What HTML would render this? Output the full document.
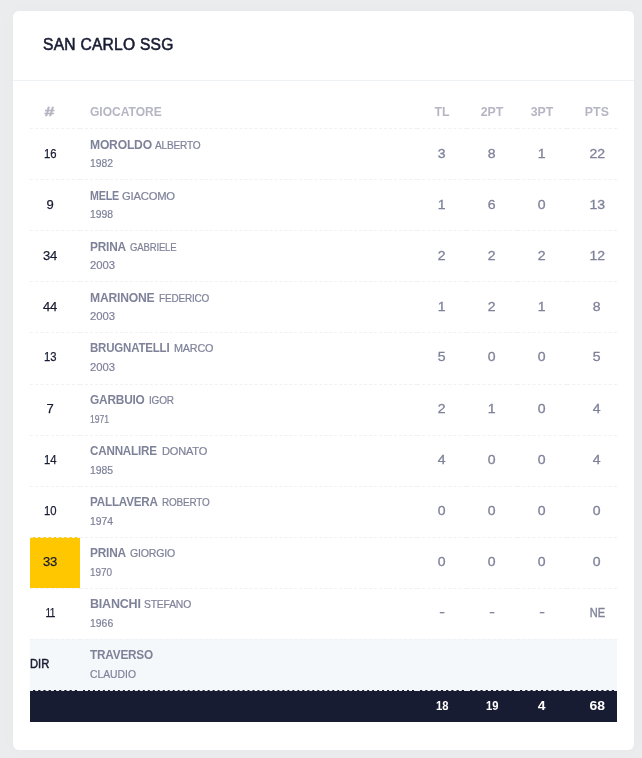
<!DOCTYPE html>
<html lang="it">
<head>
<meta charset="utf-8">
<title>SAN CARLO SSG</title>
<style>
*{box-sizing:border-box;margin:0;padding:0}
html,body{width:642px;height:758px;overflow:hidden}
body{background:#ebecee;font-family:"Liberation Sans",sans-serif;font-size:13px;color:#181c32;position:relative}
.card{position:absolute;left:13px;top:11px;width:621px;height:739.2px;background:#fff;border-radius:6px;box-shadow:0 0 20px 0 rgba(76,87,125,.02)}
.card-h{height:70px;border-bottom:1px solid #eff2f5;padding:0 30px;display:flex;align-items:center}
.card-h h3{font-size:15.6px;font-weight:400;color:#181c32;-webkit-text-stroke:.55px #181c32;white-space:nowrap;letter-spacing:.25px;word-spacing:0px;position:relative;top:-1px}
table{position:absolute;left:17px;top:83px;width:587px;border-collapse:collapse;table-layout:fixed}
th,td{padding:0 9.75px;vertical-align:middle}
th:first-child,td:first-child{padding-left:0}
th:last-child,td:last-child{padding-right:0}
thead th{height:34px;padding-top:3px;font-size:12.35px;font-weight:700;color:#b5b5c3;text-align:center;border-bottom:1px dashed #eff2f5}
thead th.l{text-align:left}
.gio{display:inline-block;transform-origin:0 50%;transform:scaleX(.975)}
.hash{display:inline-block;transform:translateX(-1px) scaleX(1.45);-webkit-text-stroke:.4px #b5b5c3}
tbody td{height:51px;border-bottom:1px dashed #eff2f5;text-align:center;color:#7e8299;font-weight:400;-webkit-text-stroke:.3px #7e8299}
td.n{color:#181c32;-webkit-text-stroke:.25px #181c32}
td.p{text-align:left;-webkit-text-stroke:0}
.l1{white-space:nowrap;line-height:15px;height:15px}
.nm,.fn,.yr{display:inline-block;transform-origin:0 50%}
.nm{font-weight:700;color:#7e8299;font-size:12.5px;letter-spacing:-.2px}
.fn{font-size:10.8px;color:#7e8299;font-weight:400;letter-spacing:-.2px;-webkit-text-stroke:.2px #7e8299}
.yr{-webkit-text-stroke:.2px #7e8299;display:block;width:100px;font-size:10.8px;color:#7e8299;line-height:13px;margin-top:5px;white-space:nowrap}
td.y{background:#ffc700}
tr.dir td{background:#f5f8fa;border-bottom:0}
tr.dir td.n{text-align:left}
tr.tot td{background:#181c32;color:#fff;font-weight:700;font-size:13px;padding-bottom:2px;height:32px;border-top:1px dashed #eff2f5;border-bottom:0;-webkit-text-stroke:0}
tbody tr:nth-child(5) td{height:52px;padding-bottom:3px}
tbody tr:nth-child(n+6) td{padding-bottom:2px}
.d{display:inline-block;transform:translateY(-1.5px) scaleX(1.3)}
.ne{display:inline-block;transform:translateX(.5px) scaleX(.85);-webkit-text-stroke:.4px #7e8299}
.t1{display:inline-block;transform:scaleX(.86)}
tbody tr:nth-child(n+5) .yr{position:relative;top:1px}
.e11{display:inline-block;transform:scaleX(.78);letter-spacing:-.5px;margin-right:.5px}
.dirx{display:inline-block;transform-origin:0 50%;transform:scaleX(.86);-webkit-text-stroke:.5px #181c32}
.s{display:inline-block;transform:scaleX(1.08)}
.n1{display:inline-block;transform:scaleX(.87)}
.t2{display:inline-block;transform:scaleX(1.07)}
</style>
</head>
<body>
<div class="card">
<div class="card-h"><h3>SAN CARLO SSG</h3></div>
<table>
<colgroup><col style="width:50px"><col><col style="width:50px"><col style="width:50px"><col style="width:50px"><col style="width:50px"></colgroup>
<thead><tr><th><span class="hash">#</span></th><th class="l"><span class="gio">GIOCATORE</span></th><th>TL</th><th>2PT</th><th>3PT</th><th>PTS</th></tr></thead>
<tbody>
<tr><td class="n"><span class="n1">16</span></td><td class="p"><div class="l1"><span class="nm" style="transform:scaleX(0.969)">MOROLDO</span> <span class="fn" style="transform:scaleX(0.937);margin-left:-2.00px">ALBERTO</span></div><div class="yr" style="transform:scaleX(0.962)">1982</div></td><td><span class="s">3</span></td><td><span class="s">8</span></td><td><span class="s">1</span></td><td><span class="s">22</span></td></tr>
<tr><td class="n">9</td><td class="p"><div class="l1"><span class="nm" style="transform:scaleX(0.855)">MELE</span> <span class="fn" style="transform:scaleX(1.041);margin-left:-5.00px">GIACOMO</span></div><div class="yr" style="transform:scaleX(0.962)">1998</div></td><td><span class="s">1</span></td><td><span class="s">6</span></td><td><span class="s">0</span></td><td><span class="s">13</span></td></tr>
<tr><td class="n">34</td><td class="p"><div class="l1"><span class="nm" style="transform:scaleX(0.949)">PRINA</span> <span class="fn" style="transform:scaleX(0.886);margin-left:-1.00px">GABRIELE</span></div><div class="yr" style="transform:scaleX(1.046)">2003</div></td><td><span class="s">2</span></td><td><span class="s">2</span></td><td><span class="s">2</span></td><td><span class="s">12</span></td></tr>
<tr><td class="n">44</td><td class="p"><div class="l1"><span class="nm" style="transform:scaleX(0.970)">MARINONE</span> <span class="fn" style="transform:scaleX(0.925);margin-left:-1.00px">FEDERICO</span></div><div class="yr" style="transform:scaleX(1.046)">2003</div></td><td><span class="s">1</span></td><td><span class="s">2</span></td><td><span class="s">1</span></td><td><span class="s">8</span></td></tr>
<tr><td class="n"><span class="n1">13</span></td><td class="p"><div class="l1"><span class="nm" style="transform:scaleX(0.919)">BRUGNATELLI</span> <span class="fn" style="transform:scaleX(1.002);margin-left:-6.00px">MARCO</span></div><div class="yr" style="transform:scaleX(1.046)">2003</div></td><td><span class="s">5</span></td><td><span class="s">0</span></td><td><span class="s">0</span></td><td><span class="s">5</span></td></tr>
<tr><td class="n">7</td><td class="p"><div class="l1"><span class="nm" style="transform:scaleX(0.948)">GARBUIO</span> <span class="fn" style="transform:scaleX(0.928);margin-left:-2.00px">IGOR</span></div><div class="yr" style="transform:scaleX(0.797)">1971</div></td><td><span class="s">2</span></td><td><span class="s">1</span></td><td><span class="s">0</span></td><td><span class="s">4</span></td></tr>
<tr><td class="n"><span class="n1">14</span></td><td class="p"><div class="l1"><span class="nm" style="transform:scaleX(0.931)">CANNALIRE</span> <span class="fn" style="transform:scaleX(1.025);margin-left:-3.00px">DONATO</span></div><div class="yr" style="transform:scaleX(0.964)">1985</div></td><td><span class="s">4</span></td><td><span class="s">0</span></td><td><span class="s">0</span></td><td><span class="s">4</span></td></tr>
<tr><td class="n"><span class="n1">10</span></td><td class="p"><div class="l1"><span class="nm" style="transform:scaleX(0.932)">PALLAVERA</span> <span class="fn" style="transform:scaleX(0.922);margin-left:-4.00px">ROBERTO</span></div><div class="yr" style="transform:scaleX(0.962)">1974</div></td><td><span class="s">0</span></td><td><span class="s">0</span></td><td><span class="s">0</span></td><td><span class="s">0</span></td></tr>
<tr><td class="n y">33</td><td class="p"><div class="l1"><span class="nm" style="transform:scaleX(0.949)">PRINA</span> <span class="fn" style="transform:scaleX(0.979);margin-left:-1.00px">GIORGIO</span></div><div class="yr" style="transform:scaleX(0.921)">1970</div></td><td><span class="s">0</span></td><td><span class="s">0</span></td><td><span class="s">0</span></td><td><span class="s">0</span></td></tr>
<tr><td class="n"><span class="e11">11</span></td><td class="p"><div class="l1"><span class="nm" style="transform:scaleX(1.001)">BIANCHI</span> <span class="fn" style="transform:scaleX(0.960);margin-left:0.00px">STEFANO</span></div><div class="yr" style="transform:scaleX(0.966)">1966</div></td><td><span class="d">-</span></td><td><span class="d">-</span></td><td><span class="d">-</span></td><td><span class="ne">NE</span></td></tr>
<tr class="dir"><td class="n"><span class="dirx">DIR</span></td><td class="p"><div class="l1"><span class="nm" style="transform:scaleX(0.941)">TRAVERSO</span></div><div class="yr" style="transform:scaleX(0.958)">CLAUDIO</div></td><td></td><td></td><td></td><td></td></tr>
<tr class="tot"><td></td><td></td><td><span class="t1">18</span></td><td><span class="t1">19</span></td><td><span class="t2">4</span></td><td><span class="t2">68</span></td></tr>
</tbody>
</table>
</div>
</body>
</html>
